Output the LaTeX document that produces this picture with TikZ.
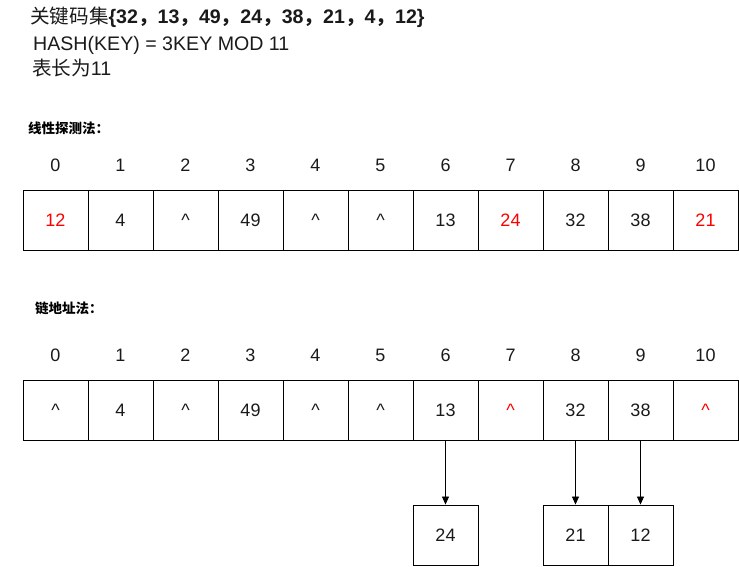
\documentclass[tikz,border=0pt]{standalone}
\usepackage{fontspec}
\setmainfont{Liberation Sans}
\newfontfamily\cjk{Noto Sans CJK SC}
\usetikzlibrary{arrows.meta}
\definecolor{txt}{HTML}{1A1A1A}
\tikzset{
  cell/.style={draw=black, line width=0.9pt, minimum width=65pt, minimum height=60pt, inner sep=0pt, font=\fontsize{18}{20}\selectfont, text=txt},
  idx/.style={font=\fontsize{18}{20}\selectfont, text=txt, inner sep=0pt},
  hdr/.style={anchor=west, inner sep=0pt, font=\fontsize{19.6}{22}\selectfont, text=txt},
  lbl/.style={anchor=west, inner sep=0pt, font=\fontsize{13.5}{15}\selectfont\bfseries},
  hot/.style={text=red},
  link/.style={-{Triangle[length=8pt,width=7pt]}, line width=0.8pt, black}
}
\begin{document}
\begin{tikzpicture}[x=1pt,y=-1pt]
\useasboundingbox (0,0) rectangle (739,566);
% header
\node[hdr] (h1) at (30,17)
  {{\cjk 关键码集}\textbf{\{32{\cjk ，}13{\cjk ，}49{\cjk ，}24{\cjk ，}38{\cjk ，}21{\cjk ，}4{\cjk ，}12\}}};
\node[hdr] (h2) at (33,45) {HASH(KEY) = 3KEY MOD 11};
\node[hdr] (h3) at (32,68) {{\cjk 表长为}11};
\node[lbl] (l1) at (28,128) {\cjk 线性探测法：};
\node[lbl] (l2) at (35,308) {\cjk 链地址法：};
% linear probing table
\foreach \i/\v/\s in {0/12/hot,1/4/,2/\textasciicircum/,3/49/,4/\textasciicircum/,5/\textasciicircum/,6/13/,7/24/hot,8/32/,9/38/,10/21/hot}{
  \node[cell,\s] (a\i) at ({55.5+65*\i},220) {\v};
  \node[idx] (ai\i) at ({55.5+65*\i},165) {\i};
}
% chaining table
\foreach \i/\v/\s in {0/\textasciicircum/,1/4/,2/\textasciicircum/,3/49/,4/\textasciicircum/,5/\textasciicircum/,6/13/,7/\textasciicircum/hot,8/32/,9/38/,10/\textasciicircum/hot}{
  \node[cell,\s] (b\i) at ({55.5+65*\i},410) {\v};
  \node[idx] (bi\i) at ({55.5+65*\i},355) {\i};
}
% chained nodes
\node[cell] (c6) at (445.5,535) {24};
\node[cell] (c8) at (575.5,535) {21};
\node[cell] (c9) at (640.5,535) {12};
\draw[link] (b6.south) -- (c6.north);
\draw[link] (b8.south) -- (c8.north);
\draw[link] (b9.south) -- (c9.north);
\end{tikzpicture}
\end{document}
